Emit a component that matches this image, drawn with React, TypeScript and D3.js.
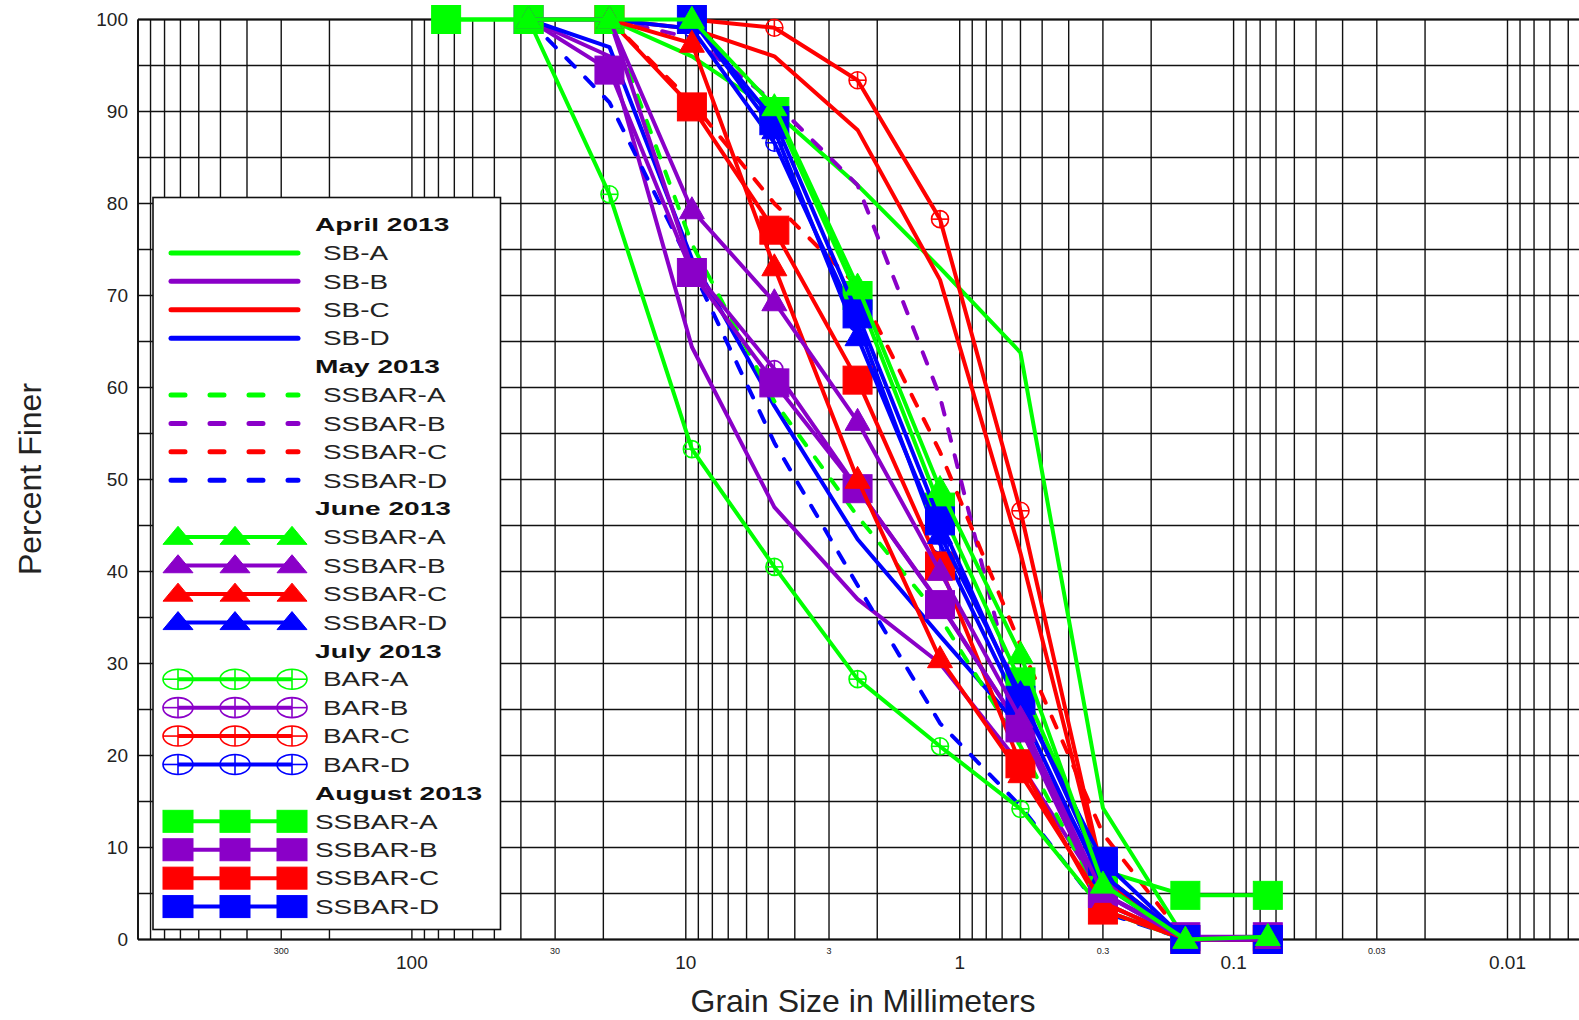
import React from "react";
import * as d3 from "d3";

// ---------- DATA ----------
const sieveSizes = [75, 37.5, 19, 9.5, 4.75, 2.36, 1.18, 0.6, 0.3, 0.15, 0.075];

// April 2013 (solid lines)
const aprSBA = [null, 100, 100, 96, 90, 82, 73, 63.8, 14.3, 0, null];
const aprSBB = [null, 100, 96, 64.4, 47, 37, 30, 19, 5, 0, null];
const aprSBC = [null, null, 100, 99, 96, 88, 71.7, 42, 6.5, 0, null];
const aprSBD = [null, 100, 97, 74, 58, 43.5, 33, 23, 7, 0, null];
// May 2013 (dashed lines)
const maySSA = [null, null, 100, 75.6, 58.5, 46, 35, 21, 4, 0, null];
const maySSB = [null, null, 100, 98, 91, 82, 59, 24, 4, 0, null];
const maySSC = [null, null, 100, 91, 80, 71, 53, 32, 11.5, 0, null];
const maySSD = [null, 100, 91, 73, 54, 38.5, 23.5, 14.5, 3, 0, null];
// June 2013 (triangles)
const junSSA = [100, 100, 100, 100, 90.5, 71, 49, 31, 6, 0, 0.3];
const junSSB = [null, 100, 100, 79.3, 69.3, 56.3, 40, 24, 5, 0, 0];
const junSSC = [null, null, 100, 97.4, 73.1, 50, 30.5, 18, 4, 0, 0];
const junSSD = [null, null, null, 100, 88, 65.5, 44, 26.7, 7, 0, 0];
// July 2013 (crossed circles)
const julBARA = [null, 100, 81, 53.3, 40.5, 28.3, 21, 14.2, 3.2, 0, null];
const julBARB = [null, null, 100, 73, 62, 49, 36.5, 23, 4, 0, null];
const julBARC = [null, null, null, 100, 99.1, 93.4, 78.3, 46.6, 7, 0, null];
const julBARD = [null, null, 100, 99, 86.6, 67, 43, 25, 6, 0, null];
// August 2013 (squares)
const augSSA = [100, 100, 100, null, 90, 70, 47, 28, 7.5, 4.8, 4.8];
const augSSB = [null, 100, 94.5, 72.5, 60.5, 49, 36.4, 23, 5, 0.3, 0.3];
const augSSC = [null, null, 100, 90.5, 77.1, 60.8, 40.6, 19.1, 3.2, 0, 0];
const augSSD = [null, null, null, 100, 89, 68, 45.5, 26, 8.5, 0, 0];

const siteColors = ["#00ff00", "#8a00c8", "#ff0000", "#0000ff"];
const monthTitles = ["April 2013", "May 2013", "June 2013", "July 2013", "August 2013"];
const monthStyles = ["solid", "dashed", "triangle", "circle", "square"];
const aprLabels = ["SB-A", "SB-B", "SB-C", "SB-D"];
const mayLabels = ["SSBAR-A", "SSBAR-B", "SSBAR-C", "SSBAR-D"];
const junLabels = ["SSBAR-A", "SSBAR-B", "SSBAR-C", "SSBAR-D"];
const julLabels = ["BAR-A", "BAR-B", "BAR-C", "BAR-D"];
const augLabels = ["SSBAR-A", "SSBAR-B", "SSBAR-C", "SSBAR-D"];

const yTicks = [0, 10, 20, 30, 40, 50, 60, 70, 80, 90, 100];
const xMajorTicks = [100, 10, 1, 0.1, 0.01];
const xMajorLabels = ["100", "10", "1", "0.1", "0.01"];
const xMinorTicks = [300, 30, 3, 0.3, 0.03];
const xMinorLabels = ["300", "30", "3", "0.3", "0.03"];

const monthData = [
  [aprSBA, aprSBB, aprSBC, aprSBD],
  [maySSA, maySSB, maySSC, maySSD],
  [junSSA, junSSB, junSSC, junSSD],
  [julBARA, julBARB, julBARC, julBARD],
  [augSSA, augSSB, augSSC, augSSD],
];
const monthLabels = [aprLabels, mayLabels, junLabels, julLabels, augLabels];

// drawing order: [month, site]
const drawOrder: [number, number][] = [
  [0, 0], [0, 1], [0, 2], [0, 3],
  [1, 0], [1, 1], [1, 2], [1, 3],
  [3, 0], [3, 1], [3, 2], [3, 3],
  [4, 2], [4, 1], [4, 0], [4, 3],
  [2, 3], [2, 2], [2, 1], [2, 0],
];

// ---------- LAYOUT ----------
const W = 1579;
const H = 1020;
const x = d3.scaleLog().domain([1000, 0.001]).range([138, 138 + 6 * 273.9]);
const y = d3.scaleLinear().domain([0, 100]).range([939.5, 19.5]);

function Marker({ shape, cx, cy, color, w, h }: any) {
  if (shape === "triangle") {
    const pts = `${cx},${cy - h * 0.6} ${cx - w / 2},${cy + h * 0.4} ${cx + w / 2},${cy + h * 0.4}`;
    return <polygon points={pts} fill={color} stroke={color} strokeWidth={1} />;
  }
  if (shape === "square") {
    return <rect x={cx - w / 2} y={cy - h / 2} width={w} height={h} fill={color} stroke={color} strokeWidth={1} />;
  }
  if (shape === "circle") {
    const rx = w / 2, ry = h / 2;
    return (
      <g stroke={color} strokeWidth={1.6} fill="none">
        <ellipse cx={cx} cy={cy} rx={rx} ry={ry} />
        <line x1={cx - rx} x2={cx + rx} y1={cy} y2={cy} />
        <line x1={cx} x2={cx} y1={cy - ry} y2={cy + ry} />
      </g>
    );
  }
  return null;
}

const plotMarkerSize: any = {
  triangle: [25, 22],
  square: [29, 28],
  circle: [17, 17],
};
const legendMarkerSize: any = {
  triangle: [30, 18],
  square: [30, 22],
  circle: [30, 20],
};

export default function App() {
  const gridX: number[] = [1000];
  [100, 10, 1, 0.1, 0.01, 0.001].forEach((d) => {
    for (let k = 9; k >= 1; k--) gridX.push(d * k);
  });
  const gridXVisible = gridX.filter((v) => x(v) <= W + 2);
  const gridY = d3.range(0, 101, 5);

  const line = d3
    .line<[number, number | null]>()
    .defined((d) => d[1] !== null)
    .x((d) => x(d[0]))
    .y((d) => y(d[1] as number));

  const legendTop = 224.5;
  const rowH = 28.42;
  const legendRows: any[] = [];
  let r = 0;
  monthTitles.forEach((t, mi) => {
    legendRows.push({ kind: "title", text: t, row: r++ });
    monthLabels[mi].forEach((lab, si) => {
      legendRows.push({ kind: "item", text: lab, row: r++, mi, si });
    });
  });

  return (
    <svg
      width={W}
      height={H}
      style={{ position: "absolute", left: 0, top: 0, display: "block", background: "#fff" }}
      fontFamily="'Liberation Sans', Arial, sans-serif"
    >
      <rect x={0} y={0} width={W} height={H} fill="#fff" />
      {/* grid */}
      <g stroke="#111" strokeWidth={1.4}>
        {gridXVisible.map((v, i) => (
          <line key={"gx" + i} x1={x(v)} x2={x(v)} y1={y(100)} y2={y(0)} />
        ))}
        {gridY.map((v) => (
          <line key={"gy" + v} x1={x(1000)} x2={W} y1={y(v)} y2={y(v)} />
        ))}
      </g>
      <line x1={x(1000)} x2={W} y1={y(0)} y2={y(0)} stroke="#111" strokeWidth={2.2} />
      <line x1={x(1000)} x2={x(1000)} y1={y(0)} y2={y(100)} stroke="#111" strokeWidth={1.8} />
      <line x1={x(1000)} x2={W} y1={y(100)} y2={y(100)} stroke="#111" strokeWidth={1.8} />

      {/* y tick labels */}
      {yTicks.map((v) => (
        <text key={"yt" + v} x={128} y={y(v)} textAnchor="end" dominantBaseline="central" fontSize={19} fill="#222">
          {v}
        </text>
      ))}
      {/* x tick labels */}
      {xMajorTicks.map((v, i) => (
        <text key={"xt" + i} x={x(v)} y={962} textAnchor="middle" dominantBaseline="central" fontSize={19} fill="#222">
          {xMajorLabels[i]}
        </text>
      ))}
      {xMinorTicks.map((v, i) => (
        <text key={"xm" + i} x={x(v)} y={951} textAnchor="middle" dominantBaseline="central" fontSize={9} fill="#222">
          {xMinorLabels[i]}
        </text>
      ))}
      {/* axis titles */}
      <text x={863} y={1012} textAnchor="middle" fontSize={32} fill="#222">
        Grain Size in Millimeters
      </text>
      <text transform="translate(41,479) rotate(-90)" textAnchor="middle" fontSize={32} fill="#222">
        Percent Finer
      </text>

      {/* series lines */}
      {drawOrder.map(([mi, si]) => {
        const vals = monthData[mi][si];
        const pts: [number, number | null][] = sieveSizes.map((s, i) => [s, vals[i]]);
        const style = monthStyles[mi];
        const color = siteColors[si];
        const dashed = style === "dashed";
        const shape = style === "solid" || style === "dashed" ? null : style;
        const [mw, mh] = shape ? plotMarkerSize[shape] : [0, 0];
        return (
          <g key={"s" + mi + "-" + si}>
            <path
              d={line(pts) || ""}
              fill="none"
              stroke={color}
              strokeWidth={4}
              strokeLinejoin="round"
              strokeLinecap={dashed ? "round" : "butt"}
              strokeDasharray={dashed ? "12 15" : undefined}
            />
            {shape &&
              pts
                .filter((p) => p[1] !== null)
                .map((p, k) => (
                  <Marker key={k} shape={shape} cx={x(p[0])} cy={y(p[1] as number)} color={color} w={mw} h={mh} />
                ))}
          </g>
        );
      })}

      {/* legend */}
      <rect x={153} y={197.5} width={347.5} height={732} fill="#fff" stroke="#111" strokeWidth={1.6} />
      {legendRows.map((row, i) => {
        const cy = legendTop + rowH * row.row;
        if (row.kind === "title") {
          return (
            <text
              key={"lt" + i}
              transform={`translate(315,${cy}) scale(1.48,1)`}
              dominantBaseline="central"
              fontSize={19}
              fontWeight="bold"
              fill="#111"
            >
              {row.text}
            </text>
          );
        }
        const style = monthStyles[row.mi];
        const color = siteColors[row.si];
        const labelX = row.mi === 4 ? 315 : 323;
        const shape = style === "solid" || style === "dashed" ? null : style;
        const [mw, mh] = shape ? legendMarkerSize[shape] : [0, 0];
        return (
          <g key={"li" + i}>
            {shape ? (
              <>
                <line x1={178} x2={292} y1={cy} y2={cy} stroke={color} strokeWidth={4} />
                {[178, 235, 292].map((mx) => (
                  <Marker key={mx} shape={shape} cx={mx} cy={cy} color={color} w={mw} h={mh} />
                ))}
              </>
            ) : (
              <line
                x1={171}
                x2={298}
                y1={cy}
                y2={cy}
                stroke={color}
                strokeWidth={5}
                strokeLinecap="round"
                strokeDasharray={style === "dashed" ? "14 25" : undefined}
              />
            )}
            <text
              transform={`translate(${labelX},${cy}) scale(1.33,1)`}
              dominantBaseline="central"
              fontSize={21}
              fill="#222"
            >
              {row.text}
            </text>
          </g>
        );
      })}
    </svg>
  );
}
